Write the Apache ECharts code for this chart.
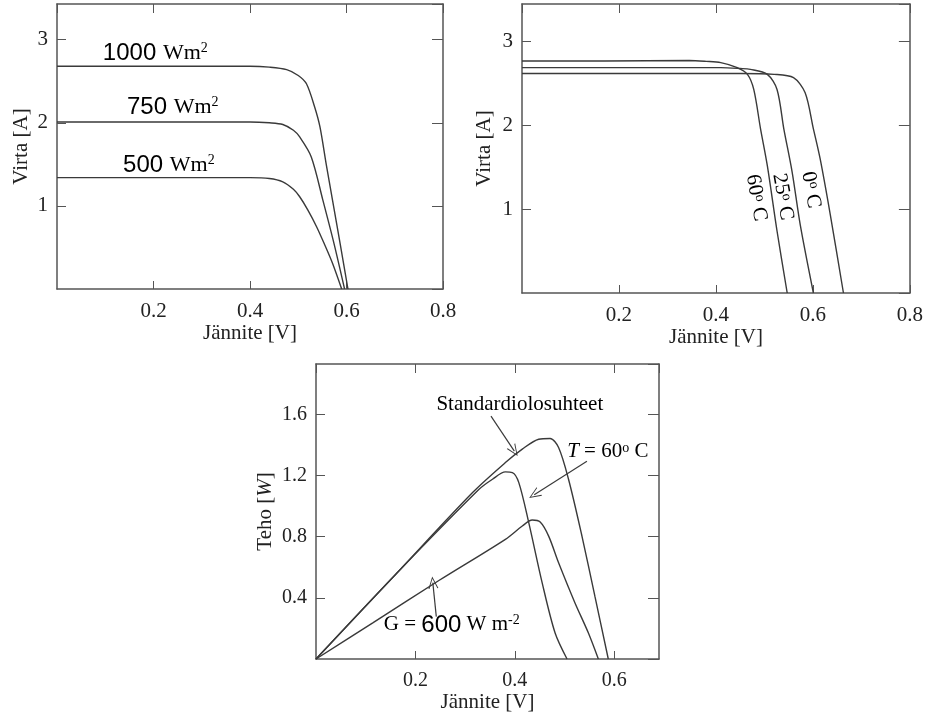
<!DOCTYPE html>
<html>
<head>
<meta charset="utf-8">
<script src="https://cdn.jsdelivr.net/npm/echarts@6/dist/echarts.min.js"></script>
<style>
  html, body { margin: 0; padding: 0; background: #fff; }
  #main { width: 926px; height: 718px; }
</style>
</head>
<body>
<div id="main"></div>
<script>
// ---- data ----
// top left: I-V curves at different irradiance [V, A]
var irrNames = ['1000', '750', '500'];
var iv1000 = [[0, 2.68], [0.20, 2.68], [0.40, 2.68], [0.44, 2.67], [0.476, 2.64], [0.50, 2.57], [0.517, 2.47], [0.534, 2.19], [0.545, 1.95], [0.558, 1.5], [0.571, 1.07], [0.587, 0.54], [0.603, 0]];
var iv750 = [[0, 2.01], [0.20, 2.01], [0.40, 2.01], [0.44, 2.0], [0.468, 1.98], [0.49, 1.91], [0.503, 1.83], [0.527, 1.59], [0.551, 1.07], [0.574, 0.55], [0.596, 0]];
var iv500 = [[0, 1.34], [0.20, 1.34], [0.40, 1.34], [0.44, 1.33], [0.468, 1.29], [0.49, 1.2], [0.503, 1.11], [0.52, 0.95], [0.538, 0.75], [0.555, 0.53], [0.571, 0.31], [0.59, 0]];

// top right: I-V curves at different temperatures [V, A]
var tempNames = ['60', '25', '0'];
var iv60 = [[0, 2.77], [0.17, 2.77], [0.345, 2.775], [0.38, 2.765], [0.41, 2.75], [0.444, 2.69], [0.465, 2.61], [0.478, 2.43], [0.492, 1.96], [0.506, 1.52], [0.526, 0.74], [0.547, 0]];
var iv25 = [[0, 2.69], [0.2, 2.69], [0.41, 2.69], [0.45, 2.68], [0.471, 2.67], [0.506, 2.61], [0.526, 2.43], [0.54, 1.96], [0.557, 1.45], [0.574, 0.81], [0.601, 0]];
var iv0 = [[0, 2.62], [0.22, 2.62], [0.45, 2.62], [0.52, 2.61], [0.56, 2.57], [0.584, 2.39], [0.601, 1.96], [0.615, 1.6], [0.636, 0.93], [0.663, 0]];

// bottom: P-V curves [V, W]
var pvStd = [[0, 0], [0.16, 0.553], [0.315, 1.089], [0.381, 1.285], [0.415, 1.373], [0.448, 1.438], [0.471, 1.443], [0.488, 1.384], [0.508, 1.176], [0.535, 0.804], [0.561, 0.411], [0.588, 0]];
var pvHot = [[0, 0], [0.16, 0.553], [0.328, 1.11], [0.355, 1.176], [0.381, 1.224], [0.395, 1.22], [0.408, 1.154], [0.428, 0.892], [0.455, 0.498], [0.481, 0.17], [0.505, 0]];
var pvLow = [[0, 0], [0.115, 0.238], [0.248, 0.515], [0.381, 0.783], [0.415, 0.87], [0.435, 0.909], [0.451, 0.896], [0.468, 0.804], [0.488, 0.63], [0.521, 0.367], [0.548, 0.17], [0.568, 0]];

var serif = '"Liberation Serif", "Times New Roman", serif';
var sans = '"Liberation Sans", Arial, sans-serif';
var frame = '#555';
var ink = '#3a3a3a';

var myChart = echarts.init(document.getElementById('main'));

// one bottom + top x axis, one left + right y axis per grid
function xAxes(g, max, interval, name, gap, fs) {
    return [{
        type: 'value', gridIndex: g, position: 'bottom', min: 0, max: max, interval: interval,
        name: name, nameLocation: 'middle', nameGap: gap,
        nameTextStyle: { fontFamily: serif, fontSize: 21, color: '#222' },
        axisLine: { onZero: false, lineStyle: { color: frame, width: 1.5 } },
        axisTick: { inside: true, length: 8, lineStyle: { color: frame } },
        axisLabel: { showMinLabel: false, showMaxLabel: max == 0.8, margin: 12, fontFamily: serif, fontSize: fs, color: '#222' },
        splitLine: { show: false }
    }, {
        type: 'value', gridIndex: g, position: 'top', min: 0, max: max, interval: interval,
        axisLine: { onZero: false, lineStyle: { color: frame, width: 1.5 } },
        axisTick: { inside: true, length: 9, lineStyle: { color: frame } },
        axisLabel: { show: false },
        splitLine: { show: false }
    }];
}
function yAxes(g, max, interval, name, gap, fs, rich) {
    return [{
        type: 'value', gridIndex: g, position: 'left', min: 0, max: max, interval: interval,
        name: name, nameLocation: 'middle', nameGap: gap,
        nameTextStyle: { fontFamily: serif, fontSize: 21, color: '#222', rich: rich },
        axisLine: { onZero: false, lineStyle: { color: frame, width: 1.5 } },
        axisTick: { inside: true, length: 9, lineStyle: { color: frame } },
        axisLabel: { showMinLabel: false, showMaxLabel: false, margin: 9, fontFamily: serif, fontSize: fs, color: '#222' },
        splitLine: { show: false }
    }, {
        type: 'value', gridIndex: g, position: 'right', min: 0, max: max, interval: interval,
        axisLine: { onZero: false, lineStyle: { color: frame, width: 1.5 } },
        axisTick: { inside: true, length: 11, lineStyle: { color: frame } },
        axisLabel: { show: false },
        splitLine: { show: false }
    }];
}

function curve(data, g, extra) {
    var s = {
        type: 'line', data: data, xAxisIndex: g * 2, yAxisIndex: g * 2,
        showSymbol: false, smooth: 0.3, silent: true,
        lineStyle: { color: ink, width: 1.4 }
    };
    if (extra) s.markLine = extra;
    return s;
}

// arrows as mark lines (open V head)
var arrowHead = 'path://M0,0 L-5,11 L-4,11 L0,2 L4,11 L5,11 Z';
function arrow(a, b) {
    return [{ coord: a, symbol: 'none' }, { coord: b, symbol: arrowHead, symbolSize: [10, 12] }];
}

option = {
    animation: false,
    grid: [
        { left: 57, top: 4, width: 386, height: 285 },
        { left: 522, top: 4, width: 391, height: 289 },
        { left: 316, top: 364, width: 343, height: 295 }
    ],
    xAxis: [].concat(
        xAxes(0, 0.8, 0.2, 'Jännite [V]', 31, 21),
        xAxes(1, 0.8, 0.2, 'Jännite [V]', 34, 21),
        xAxes(2, 0.69, 0.2, 'Jännite [V]', 33, 20)
    ),
    yAxis: [].concat(
        yAxes(0, 3.43, 1, 'Virta [A]', 25, 21),
        yAxes(1, 3.45, 1, 'Virta [A]', 27, 21),
        yAxes(2, 1.93, 0.4, '{a|Teho [}{i|W}{a|]}', 40, 20, {
            a: { fontFamily: serif, fontSize: 21, color: '#222' },
            i: { fontFamily: serif, fontSize: 21, fontStyle: 'italic', color: '#222' }
        })
    ),
    series: [
        curve(iv1000, 0), curve(iv750, 0), curve(iv500, 0),
        curve(iv60, 1), curve(iv25, 1), curve(iv0, 1),
        curve(pvStd, 2, {
            silent: true, symbol: 'none', label: { show: false },
            lineStyle: { color: ink, width: 1.2, type: 'solid' },
            data: [
                arrow([0.352, 1.589], [0.399, 1.36]),
                arrow([0.545, 1.294], [0.439, 1.075]),
                arrow([0.242, 0.277], [0.235, 0.5])
            ]
        }),
        curve(pvHot, 2), curve(pvLow, 2)
    ]
};
myChart.setOption(option);

// annotations placed in data space
function px(g, p) { return myChart.convertToPixel({ gridIndex: g }, p); }
var richStyle = {
    n: { fontFamily: sans, fontSize: 24, color: '#222' },
    s: { fontFamily: serif, fontSize: 21, color: '#222' },
    w: { fontFamily: serif, fontSize: 22, color: '#222' },
    i: { fontFamily: serif, fontSize: 21, fontStyle: 'italic', color: '#222' },
    sup: { fontFamily: serif, fontSize: 14, color: '#222', verticalAlign: 'top' }
};
function label(g, p, text, align, rot) {
    var q = px(g, p);
    return {
        type: 'text', x: q[0], y: q[1], rotation: rot || 0, silent: true,
        style: { text: text, rich: richStyle, align: align || 'left', verticalAlign: 'middle' }
    };
}
var irrPos = [[0.095, 2.84], [0.145, 2.19], [0.137, 1.49]];
var tempPos = [[0.483, 1.135], [0.538, 1.147], [0.596, 1.23]];
var graphics = [];
irrNames.forEach(function (n, k) {
    graphics.push(label(0, irrPos[k], '{n|' + n + ' }{w|Wm}{sup|2}'));
});
tempNames.forEach(function (t, k) {
    graphics.push(label(1, tempPos[k], '{s|' + t + '}{sup|o}{s| C}', 'center', -80 * Math.PI / 180));
});
graphics.push(label(2, [0.41, 1.666], '{s|Standardiolosuhteet}', 'center'));
graphics.push(label(2, [0.587, 1.357], '{i|T}{s| = 60}{sup|o}{s| C}', 'center'));
graphics.push(label(2, [0.273, 0.223], '{s|G = }{n|600}{s| W m}{sup|-2}', 'center'));
myChart.setOption({ graphic: graphics });
</script>
</body>
</html>
